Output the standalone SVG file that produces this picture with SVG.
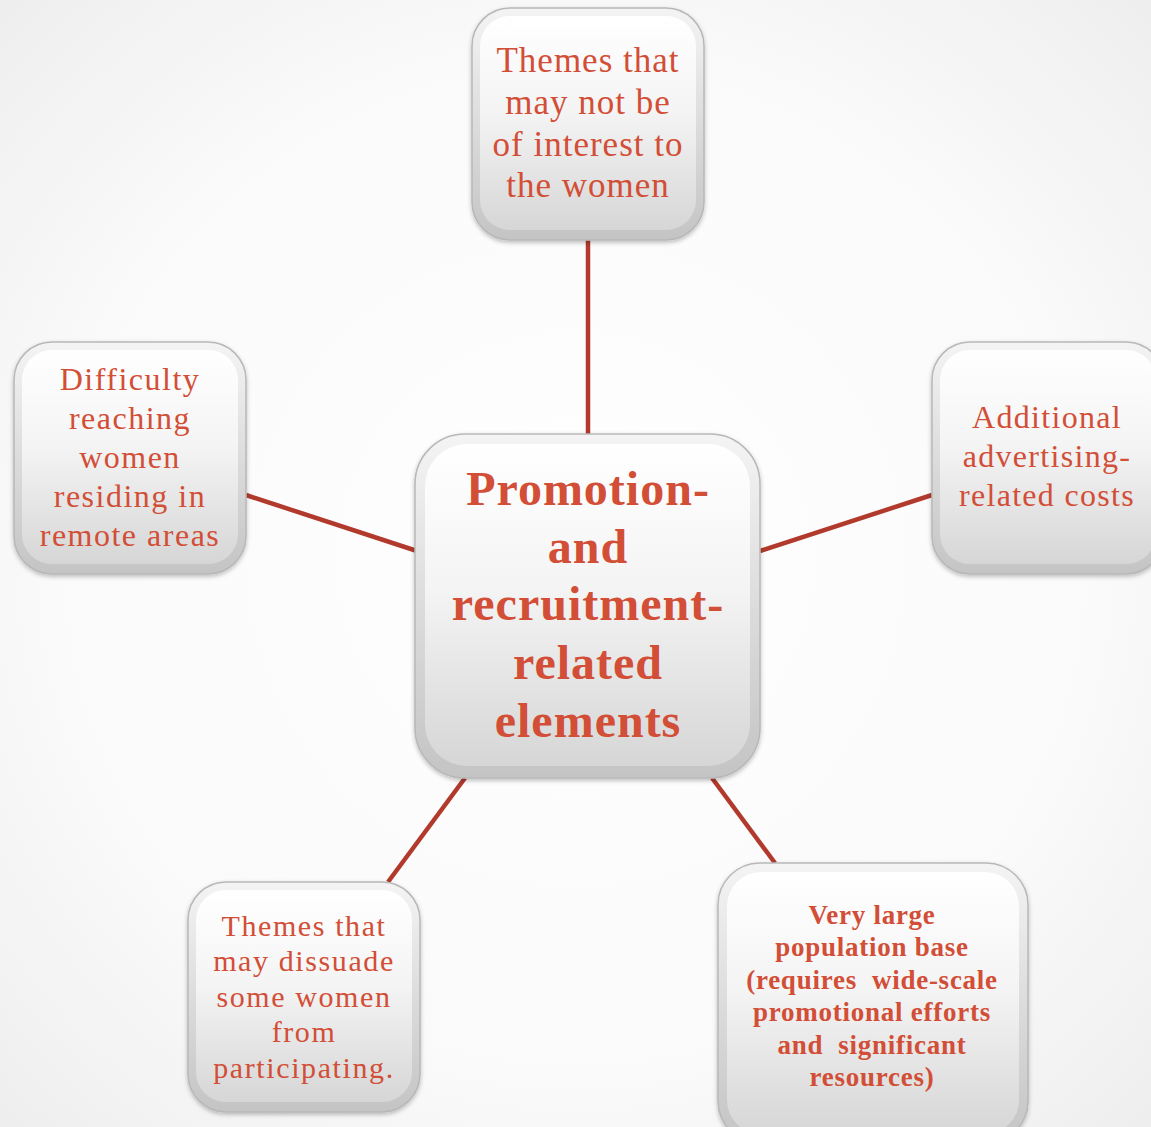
<svg xmlns="http://www.w3.org/2000/svg" width="1151" height="1127" viewBox="0 0 1151 1127">
<defs>
<radialGradient id="bg" cx="0.5" cy="0.5" r="0.75">
<stop offset="0" stop-color="#ffffff"/>
<stop offset="0.6" stop-color="#fafafa"/>
<stop offset="1" stop-color="#ececec"/>
</radialGradient>
<linearGradient id="outer" x1="0" y1="0" x2="0" y2="1">
<stop offset="0" stop-color="#f4f4f4"/>
<stop offset="1" stop-color="#c4c4c4"/>
</linearGradient>
<linearGradient id="inner" x1="0" y1="0" x2="0" y2="1">
<stop offset="0" stop-color="#ffffff"/>
<stop offset="0.45" stop-color="#f4f4f4"/>
<stop offset="1" stop-color="#d6d6d6"/>
</linearGradient>
<filter id="sh" x="-10%" y="-10%" width="120%" height="120%">
<feDropShadow dx="0" dy="2" stdDeviation="2" flood-color="#000" flood-opacity="0.25"/>
</filter>
</defs>
<style>
.o{fill:url(#outer);stroke:#b8b8b8;stroke-width:1.5;filter:url(#sh)}
.i{fill:url(#inner);stroke:none}
.t{font-family:"Liberation Serif","DejaVu Serif",serif;fill:#D24E36;text-anchor:middle}
.b{font-weight:bold}
.c{stroke:#B13A2C;stroke-width:4.5;fill:none}
</style>
<rect width="1151" height="1127" fill="url(#bg)"/>
<g id="connectors">
<line class="c" x1="588" y1="240" x2="588" y2="436"/>
<line class="c" x1="246" y1="495" x2="417" y2="551"/>
<line class="c" x1="932" y1="495" x2="760" y2="551"/>
<line class="c" x1="465" y1="778" x2="388" y2="882"/>
<line class="c" x1="712" y1="778" x2="775" y2="863"/>
</g>
<g id="n-top">
<rect class="o" x="472" y="8" width="232" height="232" rx="38"/>
<rect class="i" x="480" y="16" width="216" height="214" rx="30"/>
<text class="t" font-size="35" letter-spacing="1" x="588"><tspan x="588" y="72">Themes that</tspan><tspan x="588" y="114">may not be</tspan><tspan x="588" y="156">of interest to</tspan><tspan x="588" y="197">the women</tspan></text>
</g>
<g id="n-left">
<rect class="o" x="14" y="342" width="232" height="232" rx="38"/>
<rect class="i" x="22" y="350" width="216" height="214" rx="30"/>
<text class="t" font-size="32" letter-spacing="1.5" x="130"><tspan x="130" y="390">Difficulty</tspan><tspan x="130" y="429">reaching</tspan><tspan x="130" y="468">women</tspan><tspan x="130" y="507">residing in</tspan><tspan x="130" y="546">remote areas</tspan></text>
</g>
<g id="n-right">
<rect class="o" x="932" y="342" width="232" height="232" rx="38"/>
<rect class="i" x="940" y="350" width="216" height="214" rx="30"/>
<text class="t" font-size="32" letter-spacing="1.3" x="1047"><tspan x="1047" y="428">Additional</tspan><tspan x="1047" y="467">advertising-</tspan><tspan x="1047" y="506">related costs</tspan></text>
</g>
<g id="n-center">
<rect class="o" x="415" y="434" width="345" height="344" rx="50"/>
<rect class="i" x="425" y="444" width="325" height="322" rx="42"/>
<text class="t b" font-size="48" letter-spacing="1" x="588"><tspan x="588" y="505">Promotion-</tspan><tspan x="588" y="563">and</tspan><tspan x="588" y="620">recruitment-</tspan><tspan x="588" y="679">related</tspan><tspan x="588" y="737">elements</tspan></text>
</g>
<g id="n-bottom-left">
<rect class="o" x="188" y="882" width="232" height="230" rx="38"/>
<rect class="i" x="196" y="890" width="216" height="212" rx="30"/>
<text class="t" font-size="30" letter-spacing="1.6" x="304"><tspan x="304" y="936">Themes that</tspan><tspan x="304" y="971">may dissuade</tspan><tspan x="304" y="1007">some women</tspan><tspan x="304" y="1042">from</tspan><tspan x="304" y="1078">participating.</tspan></text>
</g>
<g id="n-bottom-right">
<rect class="o" x="718" y="863" width="310" height="280" rx="42"/>
<rect class="i" x="727" y="872" width="292" height="262" rx="34"/>
<text class="t b" font-size="27" letter-spacing="0.75" x="872" xml:space="preserve"><tspan x="872" y="924">Very large</tspan><tspan x="872" y="956">population base</tspan><tspan x="872" y="989">(requires  wide-scale</tspan><tspan x="872" y="1021">promotional efforts</tspan><tspan x="872" y="1054">and  significant</tspan><tspan x="872" y="1086">resources)</tspan></text>
</g>
</svg>
